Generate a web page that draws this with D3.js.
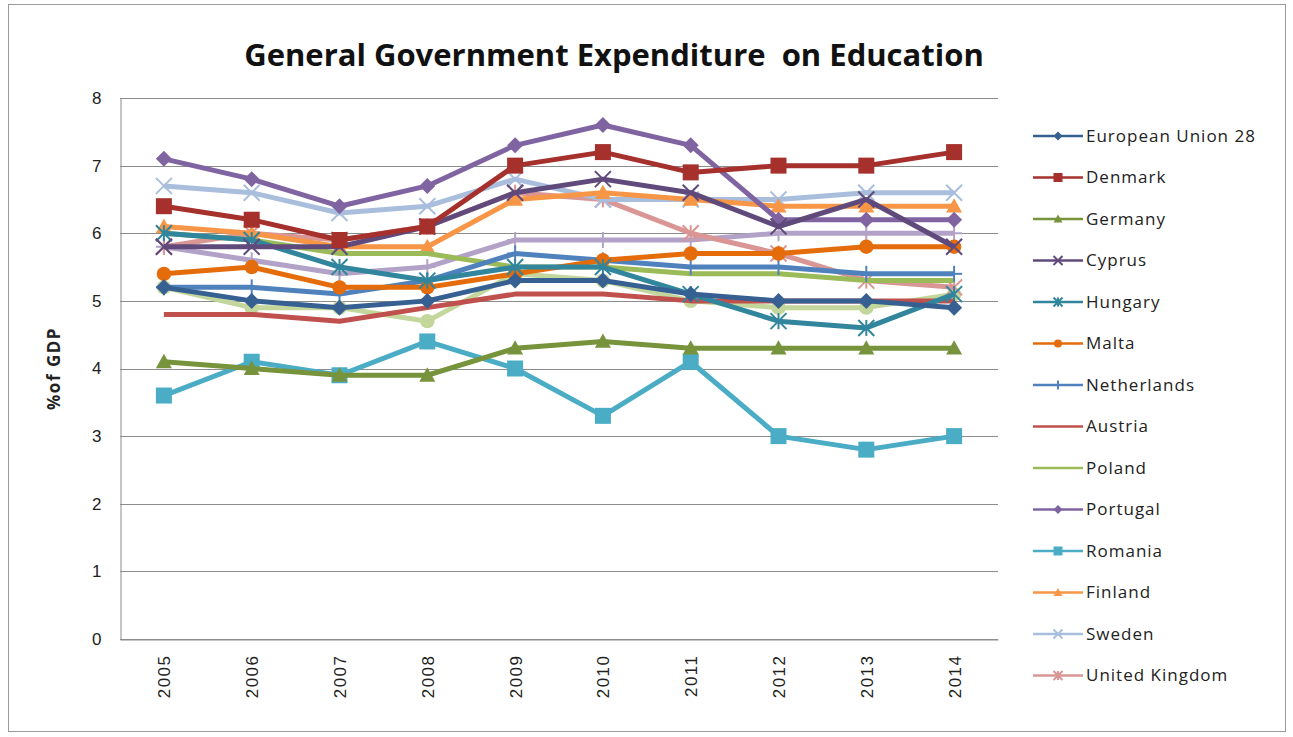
<!DOCTYPE html>
<html>
<head>
<meta charset="utf-8">
<script src="https://cdn.jsdelivr.net/npm/d3@7"></script>
<style>
  body { margin: 0; background: #fff; }
  svg { font-family: "Open Sans", "DejaVu Sans", sans-serif; }
</style>
</head>
<body>
<div id="container"></div>
<script>
/* CONSTANTS AND GLOBALS */
const width = 1293,
  height = 737,
  margin = { top: 98, bottom: 98, left: 120, right: 295 };

/* DATA */
const years = [2005, 2006, 2007, 2008, 2009, 2010, 2011, 2012, 2013, 2014];
const yTicks = [0, 1, 2, 3, 4, 5, 6, 7, 8];

const eu28        = [5.2, 5.0, 4.9, 5.0, 5.3, 5.3, 5.1, 5.0, 5.0, 4.9];
const denmark     = [6.4, 6.2, 5.9, 6.1, 7.0, 7.2, 6.9, 7.0, 7.0, 7.2];
const germany     = [4.1, 4.0, 3.9, 3.9, 4.3, 4.4, 4.3, 4.3, 4.3, 4.3];
const cyprus      = [5.8, 5.8, 5.8, 6.1, 6.6, 6.8, 6.6, 6.1, 6.5, 5.8];
const hungary     = [6.0, 5.9, 5.5, 5.3, 5.5, 5.5, 5.1, 4.7, 4.6, 5.1];
const malta       = [5.4, 5.5, 5.2, 5.2, 5.4, 5.6, 5.7, 5.7, 5.8, 5.8];
const netherlands = [5.2, 5.2, 5.1, 5.3, 5.7, 5.6, 5.5, 5.5, 5.4, 5.4];
const austria     = [4.8, 4.8, 4.7, 4.9, 5.1, 5.1, 5.0, 5.0, 5.0, 5.0];
const poland      = [6.0, 5.9, 5.7, 5.7, 5.5, 5.5, 5.4, 5.4, 5.3, 5.3];
const portugal    = [7.1, 6.8, 6.4, 6.7, 7.3, 7.6, 7.3, 6.2, 6.2, 6.2];
const romania     = [3.6, 4.1, 3.9, 4.4, 4.0, 3.3, 4.1, 3.0, 2.8, 3.0];
const finland     = [6.1, 6.0, 5.8, 5.8, 6.5, 6.6, 6.5, 6.4, 6.4, 6.4];
const sweden      = [6.7, 6.6, 6.3, 6.4, 6.8, 6.5, 6.5, 6.5, 6.6, 6.6];
const uk          = [5.8, 6.0, 5.9, 6.1, 6.6, 6.5, 6.0, 5.7, 5.3, 5.2];
// two more series are plotted but cut off from the legend
const series15    = [5.2, 4.9, 4.9, 4.7, 5.4, 5.3, 5.0, 4.9, 4.9, 5.1];
const series16    = [5.8, 5.6, 5.4, 5.5, 5.9, 5.9, 5.9, 6.0, 6.0, 6.0];

const series = [
  { name: "European Union 28", values: eu28, color: "#376092", marker: "diamond", legend: true },
  { name: "Denmark", values: denmark, color: "#A5302C", marker: "square", legend: true },
  { name: "Germany", values: germany, color: "#77933C", marker: "triangle", legend: true },
  { name: "Cyprus", values: cyprus, color: "#604A7B", marker: "x", legend: true },
  { name: "Hungary", values: hungary, color: "#31859C", marker: "star", legend: true },
  { name: "Malta", values: malta, color: "#E46C0A", marker: "circle", legend: true },
  { name: "Netherlands", values: netherlands, color: "#4F81BD", marker: "plus", legend: true },
  { name: "Austria", values: austria, color: "#C0504D", marker: "none", legend: true },
  { name: "Poland", values: poland, color: "#9BBB59", marker: "none", legend: true },
  { name: "Portugal", values: portugal, color: "#8064A2", marker: "diamond", legend: true },
  { name: "Romania", values: romania, color: "#4BACC6", marker: "square", legend: true },
  { name: "Finland", values: finland, color: "#F79646", marker: "triangle", legend: true },
  { name: "Sweden", values: sweden, color: "#A9BEDD", marker: "x", legend: true },
  { name: "United Kingdom", values: uk, color: "#D99694", marker: "star", legend: true },
  { name: "Series 15", values: series15, color: "#C3D69B", marker: "circle", legend: false },
  { name: "Series 16", values: series16, color: "#B3A2C7", marker: "plus", legend: false }
];

// SVG
const svg = d3.select("#container")
  .append("svg")
  .attr("width", width)
  .attr("height", height);

svg.append("rect")
  .attr("x", 8.5).attr("y", 4.5)
  .attr("width", 1277).attr("height", 727)
  .attr("fill", "#fff")
  .attr("stroke", "#9a9a9a");

// SCALES
const xScale = d3.scalePoint()
  .domain(years)
  .range([margin.left, width - margin.right])
  .padding(0.5);

const yScale = d3.scaleLinear()
  .domain([0, 8])
  .range([height - margin.bottom, margin.top]);

// GRID
svg.append("g")
  .selectAll("line")
  .data(yTicks)
  .join("line")
  .attr("x1", margin.left)
  .attr("x2", width - margin.right)
  .attr("y1", d => Math.round(yScale(d)) + 0.5)
  .attr("y2", d => Math.round(yScale(d)) + 0.5)
  .attr("stroke", "#8c8c8c")
  .attr("stroke-width", 1);

// AXES
const yAxis = svg.append("g")
  .attr("transform", `translate(${margin.left + 0.5},0)`)
  .call(d3.axisLeft(yScale).tickValues(yTicks).tickFormat(d3.format("d")).tickSize(0).tickPadding(19));
yAxis.select(".domain").attr("stroke", "#8c8c8c");
yAxis.selectAll("text").attr("font-size", 17).attr("fill", "#222");

const xAxis = svg.append("g")
  .attr("transform", `translate(0,${Math.round(yScale(0)) + 0.5})`)
  .call(d3.axisBottom(xScale).tickSize(0));
xAxis.select(".domain").attr("stroke", "#8c8c8c");
xAxis.selectAll("text")
  .attr("font-size", 17)
  .attr("letter-spacing", 1.5)
  .attr("fill", "#222")
  .attr("transform", "rotate(-90)")
  .attr("text-anchor", "end")
  .attr("dy", "0.35em")
  .attr("x", -15)
  .attr("y", 0);

// TITLES
svg.append("text")
  .attr("x", 614)
  .attr("y", 66)
  .attr("text-anchor", "middle")
  .attr("font-size", 31)
  .attr("font-weight", "bold")
  .attr("fill", "#111")
  .style("white-space", "pre")
  .text("General Government Expenditure  on Education");

svg.append("text")
  .attr("transform", `translate(60,${yScale(4)}) rotate(-90)`)
  .attr("text-anchor", "middle")
  .attr("font-size", 17)
  .attr("letter-spacing", 1.5)
  .attr("font-weight", "bold")
  .attr("fill", "#222")
  .text("%of GDP");

// MARKERS
function drawMarker(g, marker, color, size) {
  if (marker === "none") return;
  const r = size / 2;
  if (marker === "diamond") {
    g.append("path")
      .attr("d", `M0,${-r}L${r},0L0,${r}L${-r},0Z`)
      .attr("fill", color);
    return;
  }
  if (marker === "square") {
    g.append("rect")
      .attr("x", -r).attr("y", -r)
      .attr("width", size).attr("height", size)
      .attr("fill", color);
    return;
  }
  if (marker === "triangle") {
    g.append("path")
      .attr("d", `M0,${-r}L${r},${r * 0.8}L${-r},${r * 0.8}Z`)
      .attr("fill", color);
    return;
  }
  if (marker === "circle") {
    g.append("circle").attr("r", r * 0.9).attr("fill", color);
    return;
  }
  let segs = [];
  if (marker === "x" || marker === "star") segs.push([-r, -r, r, r], [-r, r, r, -r]);
  if (marker === "plus" || marker === "star") segs.push([0, -r, 0, r]);
  if (marker === "plus") segs.push([-r, 0, r, 0]);
  g.selectAll("line")
    .data(segs)
    .join("line")
    .attr("x1", d => d[0]).attr("y1", d => d[1])
    .attr("x2", d => d[2]).attr("y2", d => d[3])
    .attr("stroke", color)
    .attr("stroke-width", 2);
}

// LINES
const lineGen = d3.line()
  .x((d, i) => xScale(years[i]))
  .y(d => yScale(d));

const plotOrder = series.slice().reverse();

const groups = svg.append("g")
  .selectAll("g")
  .data(plotOrder)
  .join("g");

groups.append("path")
  .attr("fill", "none")
  .attr("stroke", d => d.color)
  .attr("stroke-width", 5)
  .attr("stroke-linejoin", "round")
  .attr("d", d => lineGen(d.values));

groups.each(function (s) {
  const g = d3.select(this);
  const size = s.marker === "square" ? 16 : 16;
  s.values.forEach((v, i) => {
    const m = g.append("g")
      .attr("transform", `translate(${xScale(years[i])},${yScale(v)})`);
    drawMarker(m, s.marker, s.color, size);
  });
});

// LEGEND
const legendItems = series.filter(d => d.legend);
const legend = svg.append("g")
  .selectAll("g")
  .data(legendItems)
  .join("g")
  .attr("transform", (d, i) => `translate(1033,${136 + i * 41.5})`);

legend.append("line")
  .attr("x1", 0).attr("x2", 50)
  .attr("stroke", d => d.color)
  .attr("stroke-width", 2.5);

legend.each(function (s) {
  const m = d3.select(this).append("g").attr("transform", "translate(25,0)");
  drawMarker(m, s.marker, s.color, 9);
});

legend.append("text")
  .attr("x", 53)
  .attr("dy", "0.35em")
  .attr("font-size", 17)
  .attr("letter-spacing", 1)
  .attr("fill", "#222")
  .text(d => d.name);
</script>
</body>
</html>
